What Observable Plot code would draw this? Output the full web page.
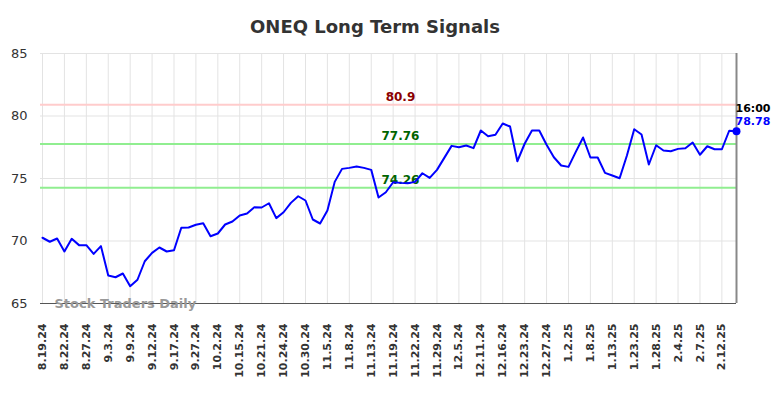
<!DOCTYPE html>
<html><head><meta charset="utf-8">
<script src="https://cdn.jsdelivr.net/npm/d3@7"></script>
<script src="https://cdn.jsdelivr.net/npm/@observablehq/plot@0.6"></script>
<style>
body{margin:0;background:#fff;font-family:"DejaVu Sans",sans-serif;}
#wrap{position:relative;width:784px;height:398px;}
#title{position:absolute;top:17px;left:0;width:750px;text-align:center;font-weight:bold;font-size:18px;color:#333;line-height:20px;}
#chart{position:absolute;top:0;left:0;}
</style></head><body>
<div id="wrap"><div id="chart"></div><div id="title">ONEQ Long Term Signals</div></div>
<script>
const dateLabels = ["8.19.24","8.22.24","8.27.24","9.3.24","9.9.24","9.12.24","9.17.24","9.27.24","10.2.24","10.15.24","10.21.24","10.24.24","10.30.24","11.5.24","11.8.24","11.13.24","11.19.24","11.22.24","11.29.24","12.5.24","12.11.24","12.16.24","12.23.24","12.27.24","1.2.25","1.8.25","1.13.25","1.23.25","1.28.25","2.4.25","2.7.25","2.12.25"];
const prices = [70.26,69.94,70.20,69.16,70.18,69.67,69.67,68.97,69.59,67.24,67.10,67.40,66.38,66.90,68.38,69.05,69.48,69.16,69.26,71.06,71.08,71.30,71.42,70.38,70.60,71.32,71.56,72.04,72.20,72.70,72.68,73.02,71.83,72.30,73.05,73.58,73.24,71.72,71.40,72.44,74.73,75.77,75.85,75.96,75.85,75.69,73.48,73.90,74.70,74.65,74.62,74.73,75.42,75.05,75.69,76.65,77.61,77.50,77.64,77.43,78.84,78.38,78.50,79.40,79.16,76.38,77.78,78.84,78.84,77.70,76.70,76.04,75.93,77.13,78.28,76.68,76.68,75.45,75.24,75.02,76.84,78.94,78.52,76.12,77.66,77.24,77.18,77.37,77.42,77.88,76.90,77.58,77.34,77.34,78.82,78.78];
const resistanceLevels = [80.9];
const supportLevels = [77.76, 74.26];
const yTicks = [65,70,75,80,85];
const lastTime = "16:00";

const tickIdx = dateLabels.map((d,i)=>i*3);
const data = prices.map((p,i)=>({i, p}));
const last = data[data.length-1];
const levelX = 49;

const chart = Plot.plot({
  width: 784, height: 398,
  marginTop: 53, marginBottom: 95, marginLeft: 40, marginRight: 48,
  style: {fontFamily: "DejaVu Sans", background: "#fff"},
  x: {domain: [0, prices.length-1], insetLeft: 2, axis: null},
  y: {domain: [65, 85], axis: null},
  marks: [
    Plot.gridX(tickIdx, {stroke: "#e3e3e3", strokeOpacity: 1}),
    Plot.gridY(yTicks, {stroke: "#e3e3e3", strokeOpacity: 1}),
    Plot.axisY(yTicks, {label: null, tickSize: 0, tickPadding: 13, fontSize: 13, color: "#333"}),
    Plot.axisX(tickIdx, {label: null, tickFormat: i => dateLabels[i/3], tickRotate: -90, tickSize: 0, tickPadding: 20, fontSize: 11, fontWeight: "bold", color: "#333"}),
    Plot.ruleY(resistanceLevels, {stroke: "#ffcccc", strokeWidth: 2}),
    Plot.ruleY(supportLevels, {stroke: "#90ee90", strokeWidth: 2}),
    Plot.text(resistanceLevels, {x: levelX, y: d=>d, text: d=>String(d), dy: -8, fill: "#8b0000", fontWeight: "bold", fontSize: 12}),
    Plot.text(supportLevels, {x: levelX, y: d=>d, text: d=>String(d), dy: -8, fill: "#006400", fontWeight: "bold", fontSize: 12}),
    Plot.ruleY([65], {stroke: "#555", strokeWidth: 1}),
    Plot.ruleX([prices.length-1], {stroke: "#888", strokeWidth: 2}),
    Plot.line(data, {x: "i", y: "p", stroke: "#0000ff", strokeWidth: 2}),
    Plot.dot([last], {x: "i", y: "p", r: 4, fill: "#0000ff"}),
    Plot.text([last], {x: "i", y: "p", text: () => lastTime, dy: -23, dx: -1, textAnchor: "start", fill: "#000", fontWeight: "bold", fontSize: 11}),
    Plot.text([last], {x: "i", y: "p", text: d => d.p.toFixed(2), dy: -10, dx: -1, textAnchor: "start", fill: "#0000ff", fontWeight: "bold", fontSize: 11}),
    Plot.text(["Stock Traders Daily"], {frameAnchor: "bottom-left", dx: 14, dy: 0, lineAnchor: "middle", textAnchor: "start", fill: "#999", fontWeight: "bold", fontSize: 13})
  ]
});
document.getElementById("chart").appendChild(chart);
</script>
</body></html>
